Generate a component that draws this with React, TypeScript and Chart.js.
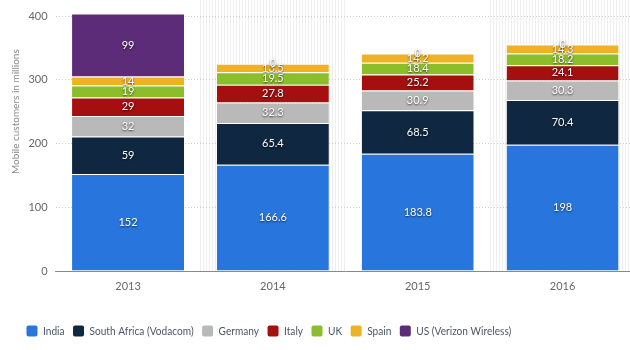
import React, { useEffect, useRef } from "react";
import { Chart, registerables } from "chart.js";

Chart.register(...registerables);

const categories = ["2013", "2014", "2015", "2016"];
const india = [152, 166.6, 183.8, 198];
const southAfrica = [59, 65.4, 68.5, 70.4];
const germany = [32, 32.3, 30.9, 30.3];
const italy = [29, 27.8, 25.2, 24.1];
const uk = [19, 19.5, 18.4, 18.2];
const spain = [14, 13.5, 14.2, 14.3];
const us = [99, 0, 0, 0];

const seriesNames = [
  "India",
  "South Africa (Vodacom)",
  "Germany",
  "Italy",
  "UK",
  "Spain",
  "US (Verizon Wireless)",
];
const seriesData = [india, southAfrica, germany, italy, uk, spain, us];
const seriesColors = ["#2876dd", "#0f2740", "#b9b9b9", "#a50f0f", "#8cbd2b", "#efb227", "#5d2c78"];
const yTicks = [0, 100, 200, 300, 400];
const yTitle = "Mobile customers in millions";

const FONT = "Lato, 'Open Sans', sans-serif";

const stripesPlugin = {
  id: "stripes",
  beforeDraw(chart: any) {
    const { ctx, chartArea } = chart;
    const xs = chart.scales.x;
    const n = categories.length;
    const w = (chartArea.right - chartArea.left) / n;
    ctx.save();
    ctx.strokeStyle = "#efefef";
    ctx.lineWidth = 1;
    for (let i = 1; i < n; i += 2) {
      const cx = xs.getPixelForValue(i);
      const l = cx - w / 2;
      const r = cx + w / 2;
      ctx.beginPath();
      for (let x = Math.round(l) + 0.5; x < r; x += 3) {
        ctx.moveTo(x, 0);
        ctx.lineTo(x, chartArea.bottom);
      }
      ctx.stroke();
    }
    ctx.restore();
  },
};

const labelsPlugin = {
  id: "segLabels",
  afterDatasetsDraw(chart: any) {
    const { ctx } = chart;
    ctx.save();
    ctx.font = `11px ${FONT}`;
    ctx.textAlign = "center";
    ctx.textBaseline = "middle";
    ctx.fillStyle = "#ffffff";
    ctx.shadowColor = "rgba(0,0,0,0.7)";
    ctx.shadowBlur = 2;
    ctx.shadowOffsetX = 0;
    ctx.shadowOffsetY = 1;
    chart.data.datasets.forEach((ds: any, di: number) => {
      const meta = chart.getDatasetMeta(di);
      meta.data.forEach((el: any, i: number) => {
        const v = ds.data[i];
        const y = (el.y + el.base) / 2;
        ctx.fillText(String(v), el.x, y);
      });
    });
    ctx.restore();
  },
};

const extrasPlugin = {
  id: "extras",
  afterDraw(chart: any) {
    const { ctx, chartArea } = chart;
    ctx.save();
    // y-axis title
    ctx.font = `10px ${FONT}`;
    ctx.fillStyle = "#8a8a8a";
    ctx.textAlign = "center";
    ctx.textBaseline = "middle";
    const ty = chartArea.top + (chartArea.bottom - chartArea.top) * 0.375;
    ctx.translate(16, ty);
    ctx.rotate(-Math.PI / 2);
    ctx.fillText(yTitle, 0, 0);
    ctx.restore();

    // legend
    ctx.save();
    ctx.font = `11px ${FONT}`;
    ctx.textBaseline = "middle";
    ctx.textAlign = "left";
    const sx = 0.92;
    let x = 26.5;
    const y = 331;
    seriesNames.forEach((name, i) => {
      ctx.fillStyle = seriesColors[i];
      ctx.beginPath();
      (ctx as any).roundRect(x, y - 5.5, 11, 11, 2);
      ctx.fill();
      x += 11 + 5.5;
      ctx.fillStyle = "#4a5668";
      ctx.save();
      ctx.translate(x, y);
      ctx.scale(sx, 1);
      ctx.fillText(name, 0, 0);
      ctx.restore();
      x += ctx.measureText(name).width * sx + 8.5;
    });
    ctx.restore();
  },
};

export default function App() {
  const ref = useRef<HTMLCanvasElement>(null);
  useEffect(() => {
    if (!ref.current) return;
    const chart = new Chart(ref.current, {
      type: "bar",
      data: {
        labels: categories,
        datasets: seriesNames.map((name, i) => ({
          label: name,
          data: seriesData[i],
          backgroundColor: seriesColors[i],
          borderColor: "rgba(255,255,255,0.75)",
          borderWidth: { top: 1, left: 0, right: 0, bottom: 0 },
          borderSkipped: false,
          clip: false as any,
          categoryPercentage: 1,
          barPercentage: 0.773,
        })),
      },
      options: {
        animation: false,
        responsive: true,
        maintainAspectRatio: false,
        layout: { padding: { top: 16, right: 0, bottom: 0, left: 0 } },
        plugins: {
          legend: { display: false },
          tooltip: { enabled: false },
        },
        scales: {
          x: {
            stacked: true,
            grid: { display: false, drawTicks: false },
            border: { display: true, color: "#8a8a8a", width: 1 },
            ticks: { color: "#666", font: { family: FONT, size: 11 }, padding: 9 },
            afterFit: (s: any) => {
              s.height = 79;
            },
          },
          y: {
            stacked: true,
            min: 0,
            max: 400,
            afterBuildTicks: (s: any) => {
              s.ticks = yTicks.map((v) => ({ value: v }));
            },
            grid: {
              drawTicks: false,
              color: (c: any) => (c.tick && c.tick.value === 0 ? "rgba(0,0,0,0)" : "#cfcfcf"),
              lineWidth: 1,
            },
            border: { display: false, dash: [1, 2] },
            ticks: { color: "#666", font: { family: FONT, size: 11 }, padding: 8 },
            afterFit: (s: any) => {
              s.width = 55.6;
            },
          },
        },
      },
      plugins: [stripesPlugin, labelsPlugin, extrasPlugin],
    });
    return () => chart.destroy();
  }, []);

  return (
    <div style={{ position: "fixed", left: 0, top: 0, width: 630, height: 350, overflow: "hidden", background: "#fff" }}>
      <div style={{ position: "relative", width: 635, height: 350 }}>
        <canvas ref={ref} />
      </div>
    </div>
  );
}
